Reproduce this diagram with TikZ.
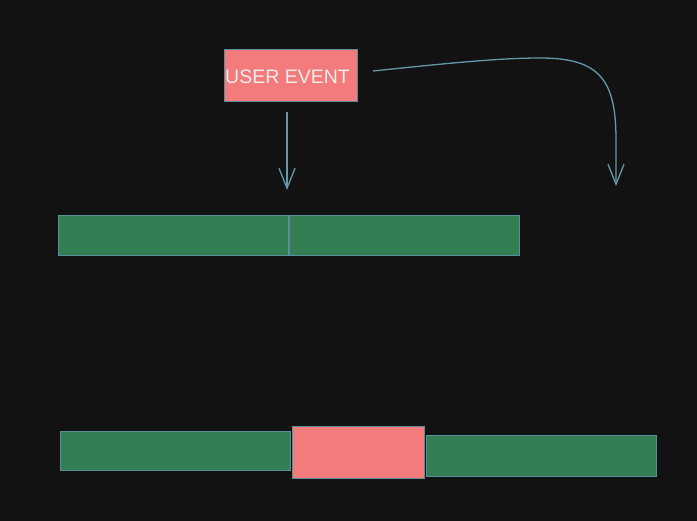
\documentclass[tikz,border=0pt]{standalone}
\usepackage{fontspec}
\setmainfont{Liberation Sans}
\usetikzlibrary{arrows.meta}
\definecolor{bg}{HTML}{121212}
\definecolor{pinkfill}{HTML}{F47B7B}
\definecolor{greenfill}{HTML}{347E53}
\definecolor{edge}{HTML}{5A8E9E}
\definecolor{arrowc}{HTML}{6499A8}
\definecolor{txt}{HTML}{EEEEEE}
\tikzset{
  box/.style={draw=edge, line width=1pt, inner sep=0pt, outer sep=0pt},
  greenbox/.style={box, fill=greenfill},
  pinkbox/.style={box, fill=pinkfill},
  conn/.style={draw=arrowc, line width=1.3pt, -{Straight Barb[length=20pt,width=16pt,line width=1.3pt]}},
}
\begin{document}
\begin{tikzpicture}[x=1pt,y=-1pt]
\fill[bg] (0,0) rectangle (697,521);
\useasboundingbox (0,0) rectangle (697,521);
% user event
\node[pinkbox, minimum width=133pt, minimum height=52pt, text=txt, font=\fontsize{19.5}{22}\selectfont, text depth=0pt, text height=16pt] (ev) at (290.5,76) {\hspace*{-6pt}USER EVENT};
% top bar
\node[greenbox, minimum width=230pt, minimum height=40pt] (a1) at (173,236) {};
\node[greenbox, minimum width=230pt, minimum height=40pt] (a2) at (404,236) {};
% bottom bar
\node[greenbox, minimum width=230pt, minimum height=39pt] (b1) at (175,451.5) {};
\node[pinkbox, minimum width=132pt, minimum height=52pt] (b2) at (358,453) {};
\node[greenbox, minimum width=230pt, minimum height=41pt] (b3) at (541,456.5) {};
% connectors
\coordinate (s1) at (287,112);
\coordinate (e1) at (287,190);
\coordinate (s2) at (373,71);
\coordinate (m2) at (540,58);
\coordinate (e2) at (616,186);
\draw[conn] (s1) -- (e1);
\draw[conn] (s2) .. controls (450,63) and (500,58) .. (m2)
  .. controls (600,58) and (616,80) .. (616,140) -- (e2);
\end{tikzpicture}
\end{document}
